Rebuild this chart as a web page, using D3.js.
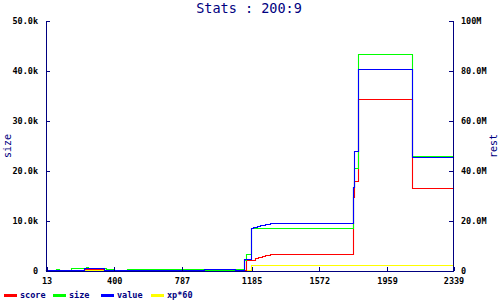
<!DOCTYPE html>
<html>
<head>
<meta charset="utf-8">
<script src="https://cdnjs.cloudflare.com/ajax/libs/d3/7.8.5/d3.min.js"></script>
<style>
  body { margin: 0; background: #fff; }
  svg text { font-family: "DejaVu Sans Mono", monospace; }
</style>
</head>
<body>
<svg id="chart" width="500" height="300"></svg>
<script>

// x ticks as printed on the chart
let xTicks = [13, 400, 787, 1185, 1572, 1959, 2339];
let leftTicks = [0, 10000, 20000, 30000, 40000, 50000];
let leftTickLabels = ['0', '10.0k', '20.0k', '30.0k', '40.0k', '50.0k'];
let rightTicks = [0, 20e6, 40e6, 60e6, 80e6, 100e6];
let rightTickLabels = ['0', '20.0M', '40.0M', '60.0M', '80.0M', '100M'];

// step series (value holds from x until next x)
let sizeX =   [13, 70, 85, 156, 240, 255, 356, 403, 478, 807, 916, 1093, 1146, 1154, 1185, 1769, 1775, 1798, 2103, 2339];
let sizeVal = [0, 200, 0, 340, 600, 340, 140, 0, 300, 140, 40, 140, 2100, 3200, 8340, 16600, 20500, 43300, 22900, 22900];

let valueX =   [13, 122, 228, 346, 478, 916, 1093, 1146, 1185, 1198, 1217, 1236, 1265, 1293, 1769, 1775, 1798, 2103, 2339];
let valueVal = [0, 0.12e6, 0.7e6, 0.12e6, 0.12e6, 0.25e6, 0.12e6, 4.3e6, 16.7e6, 17.1e6, 17.6e6, 17.9e6, 18.3e6, 18.7e6, 33.1e6, 47.7e6, 80.5e6, 45.1e6, 45.1e6];

let scoreX =   [13, 228, 346, 1154, 1185, 1205, 1227, 1246, 1265, 1293, 1769, 1775, 1798, 2103, 2339];
let scoreVal = [0, 0.3e6, 0, 4.0e6, 4.2e6, 4.7e6, 5.2e6, 5.7e6, 6.1e6, 6.5e6, 29e6, 35.6e6, 68.4e6, 32.9e6, 32.9e6];

let xpX =   [13, 1185, 2339];
let xpVal = [0.2e6, 2.0e6, 2.0e6];

let legendNames = ['score', 'size', 'value', 'xp*60'];
let legendColors = ['#ff0000', '#00ff00', '#0000ff', '#ffff00'];

const navy = '#000080';

let svg = d3.select('#chart');

let x = d3.scaleLinear().domain([13, 2339]).range([46.5, 453.5]);
let yLeft = d3.scaleLinear().domain([0, 50000]).range([270.5, 20.5]);
let yRight = d3.scaleLinear().domain([0, 100e6]).range([270.5, 20.5]);

function zipPts(xs, vs) {
    return xs.map((xv, i) => [xv, vs[i]]);
}

let series = [
    {pts: zipPts(scoreX, scoreVal), y: yRight, color: legendColors[0]},
    {pts: zipPts(sizeX, sizeVal), y: yLeft, color: legendColors[1]},
    {pts: zipPts(valueX, valueVal), y: yRight, color: legendColors[2]},
    {pts: zipPts(xpX, xpVal), y: yRight, color: legendColors[3]}
];

// draw order: yellow under, then red, green, blue on top
let drawOrder = [3, 0, 1, 2];
drawOrder.forEach(i => {
    let s = series[i];
    let line = d3.line()
        .x(d => Math.floor(x(d[0])) + 0.5)
        .y(d => Math.floor(s.y(d[1])) + 0.5)
        .curve(d3.curveStepAfter);
    svg.append('path')
        .datum(s.pts)
        .attr('d', line)
        .attr('fill', 'none')
        .attr('stroke', s.color)
        .attr('stroke-width', 1.1)
        .attr('stroke-linecap', 'square');
});

// axes
let xAxis = d3.axisBottom(x)
    .tickValues(xTicks)
    .tickFormat(d3.format('d'))
    .tickSizeInner(-4)
    .tickSizeOuter(0)
    .tickPadding(8);

let leftAxis = d3.axisLeft(yLeft)
    .tickValues(leftTicks)
    .tickFormat((d, i) => leftTickLabels[i])
    .tickSizeInner(-4)
    .tickSizeOuter(0)
    .tickPadding(8);

let rightAxis = d3.axisRight(yRight)
    .tickValues(rightTicks)
    .tickFormat((d, i) => rightTickLabels[i])
    .tickSizeInner(-4)
    .tickSizeOuter(0)
    .tickPadding(8);

let styleAxis = g => {
    g.select('.domain').attr('stroke', navy).attr('shape-rendering', 'crispEdges');
    g.selectAll('.tick line').attr('stroke', navy).attr('shape-rendering', 'crispEdges');
    g.selectAll('.tick text')
        .attr('fill', '#000')
        .style('font-size', '8.5px')
        .style('font-weight', 'bold');
};

svg.append('g')
    .attr('transform', 'translate(0,271)')
    .call(xAxis)
    .call(styleAxis)
    .call(g => g.select('.domain').attr('stroke-width', 1.5))
    .call(g => g.selectAll('.tick text').attr('dy', '0.55em'));

svg.append('g')
    .attr('transform', 'translate(46,0)')
    .call(leftAxis)
    .call(styleAxis);

svg.append('g')
    .attr('transform', 'translate(453,0)')
    .call(rightAxis)
    .call(styleAxis);

// title + axis names
svg.append('text')
    .attr('x', 249)
    .attr('y', 13)
    .attr('text-anchor', 'middle')
    .attr('fill', navy)
    .style('font-size', '13.5px')
    .text('Stats : 200:9');

svg.append('text')
    .attr('transform', 'translate(11,146) rotate(-90)')
    .attr('text-anchor', 'middle')
    .attr('fill', navy)
    .style('font-size', '10px')
    .text('size');

svg.append('text')
    .attr('transform', 'translate(497,146) rotate(-90)')
    .attr('text-anchor', 'middle')
    .attr('fill', navy)
    .style('font-size', '10px')
    .text('rest');

// legend
let legendX = [4, 53, 101, 151];
let legend = svg.append('g');
legendNames.forEach((name, i) => {
    legend.append('rect')
        .attr('x', legendX[i])
        .attr('y', 294)
        .attr('width', 13)
        .attr('height', 3)
        .attr('fill', legendColors[i]);
    legend.append('text')
        .attr('x', legendX[i] + 16)
        .attr('y', 298)
        .attr('fill', navy)
        .style('font-size', '8.5px')
        .style('font-weight', 'bold')
        .text(name);
});

</script>
</body>
</html>
